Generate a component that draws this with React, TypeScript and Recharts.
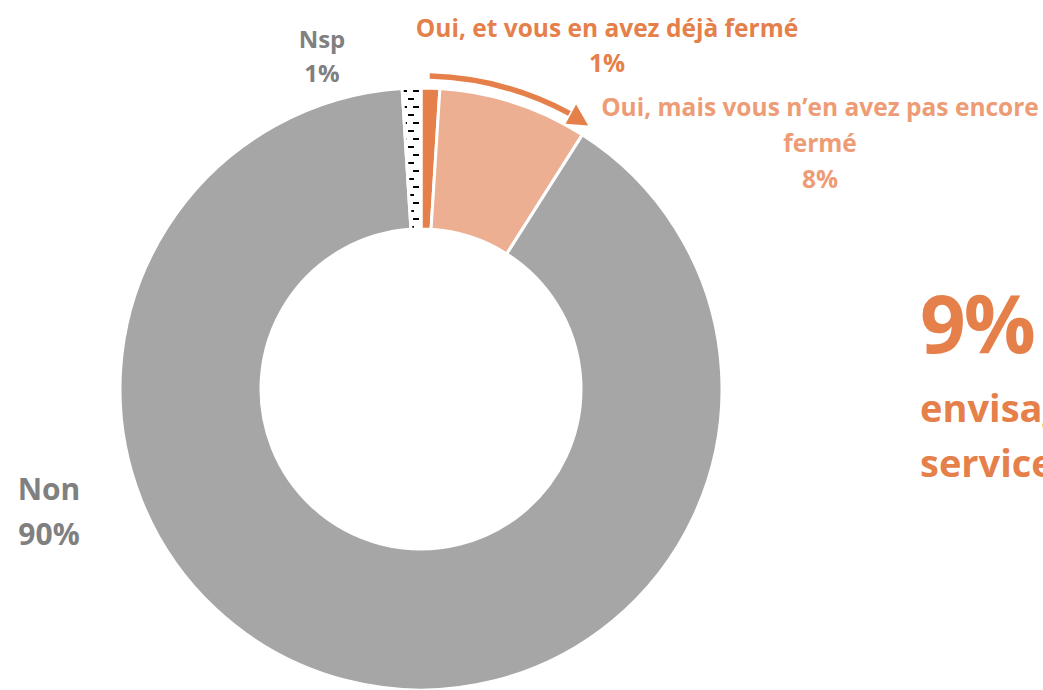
import { Cell, Pie, PieChart } from "recharts";

const NAMES = [
  "Oui, et vous en avez déjà fermé",
  "Oui, mais vous n’en avez pas encore fermé",
  "Non",
  "Nsp",
];
const VALUES = [1, 8, 90, 1];
const LABEL_LINES = [
  ["Oui, et vous en avez déjà fermé"],
  ["Oui, mais vous n’en avez pas encore", "fermé"],
  ["Non"],
  ["Nsp"],
];
const HEADLINE = "9%";
const HEADLINE_SUB = ["envisagent", "services"];

const FILLS = ["#E5804A", "#ECAF92", "#A6A6A6", "url(#nspPattern)"];
const LABEL_COLORS = ["#E5804A", "#EE9C76", "#808080", "#808080"];

// label anchor (centre x, first baseline, line height) per slice
const LABEL_POS = [
  { x: 607, y: 37, lh: 35 },
  { x: 820, y: 116, lh: 36 },
  { x: 49, y: 500, lh: 45 },
  { x: 322, y: 48, lh: 34 },
];
const LABEL_SIZE = [24.5, 24.5, 30, 24];

const W = 1043;
const H = 690;
const CX = 421;
const CY = 389;
const OUTER = 301;
const INNER = 160;
const FONT = "'Open Sans', sans-serif";

const chartData = NAMES.map((name, i) => ({ name, value: VALUES[i] }));
const total = VALUES.reduce((a, b) => a + b, 0);

function pt(angle: number, r: number) {
  const rad = (angle * Math.PI) / 180;
  return [CX + r * Math.cos(rad), CY - r * Math.sin(rad)];
}

function renderLabel(props: any) {
  const { index, value } = props;
  const pos = LABEL_POS[index];
  const lines = [...LABEL_LINES[index], `${Math.round((value / total) * 100)}%`];
  return (
    <g key={`lbl-${index}`}>
      {lines.map((t, j) => (
        <text
          key={j}
          x={pos.x}
          y={pos.y + j * pos.lh}
          textAnchor="middle"
          fill={LABEL_COLORS[index]}
          fontFamily={FONT}
          fontWeight={700}
          fontSize={LABEL_SIZE[index]}
        >
          {t}
        </text>
      ))}
    </g>
  );
}

function Arrow() {
  // arrow spans the two "Oui" slices, starting at 12 o'clock
  const share = (VALUES[0] + VALUES[1]) / total;
  const endAngle = 90 - share * 360;
  const r = 313;
  const a0 = 88.4;
  const aTip = endAngle;
  const aBase = aTip + 3.8;
  const [x0, y0] = pt(a0, r);
  const [x1, y1] = pt(aBase + 0.3, r);
  const tip = pt(aTip, r - 1);
  const b1 = pt(aBase, r + 11);
  const b2 = pt(aBase, r - 11);
  return (
    <g>
      <path
        d={`M ${x0} ${y0} A ${r} ${r} 0 0 1 ${x1} ${y1}`}
        fill="none"
        stroke="#E5804A"
        strokeWidth={5.5}
      />
      <polygon
        points={`${tip[0]},${tip[1]} ${b1[0]},${b1[1]} ${b2[0]},${b2[1]}`}
        fill="#E5804A"
      />
    </g>
  );
}

export default function App() {
  return (
    <div
      style={{
        position: "absolute",
        left: 0,
        top: 0,
        width: W,
        height: H,
        overflow: "hidden",
        background: "#fff",
      }}
    >
      <svg width={0} height={0} style={{ position: "absolute" }}>
        <defs>
          <pattern
            id="nspPattern"
            patternUnits="userSpaceOnUse"
            x={408}
            y={0}
            width={12}
            height={16}
          >
            <rect x={0} y={0} width={12} height={16} fill="#fff" />
            <rect x={0} y={2} width={6} height={2} fill="#000" />
            <rect x={5} y={10} width={6} height={2} fill="#000" />
          </pattern>
        </defs>
      </svg>
      <PieChart width={W} height={H} margin={{ top: 0, right: 0, bottom: 0, left: 0 }}>
        <Pie
          data={chartData}
          dataKey="value"
          nameKey="name"
          cx={CX}
          cy={CY}
          innerRadius={INNER}
          outerRadius={OUTER}
          startAngle={90}
          endAngle={-270}
          stroke="#fff"
          strokeWidth={3}
          label={renderLabel}
          labelLine={false}
          isAnimationActive={false}
        >
          {chartData.map((_, i) => (
            <Cell key={i} fill={FILLS[i]} />
          ))}
        </Pie>
      </PieChart>
      <svg
        width={W}
        height={H}
        style={{ position: "absolute", left: 0, top: 0, pointerEvents: "none" }}
      >
        <Arrow />
        <text
          x={920}
          y={353}
          fill="#E5804A"
          fontFamily={FONT}
          fontWeight={700}
          fontSize={80}
          letterSpacing={-2}
        >
          {HEADLINE}
        </text>
        {HEADLINE_SUB.map((t, j) => (
          <text
            key={t}
            x={920}
            y={422 + j * 55}
            fill="#E5804A"
            fontFamily={FONT}
            fontWeight={700}
            fontSize={38}
          >
            {t}
          </text>
        ))}
      </svg>
    </div>
  );
}
